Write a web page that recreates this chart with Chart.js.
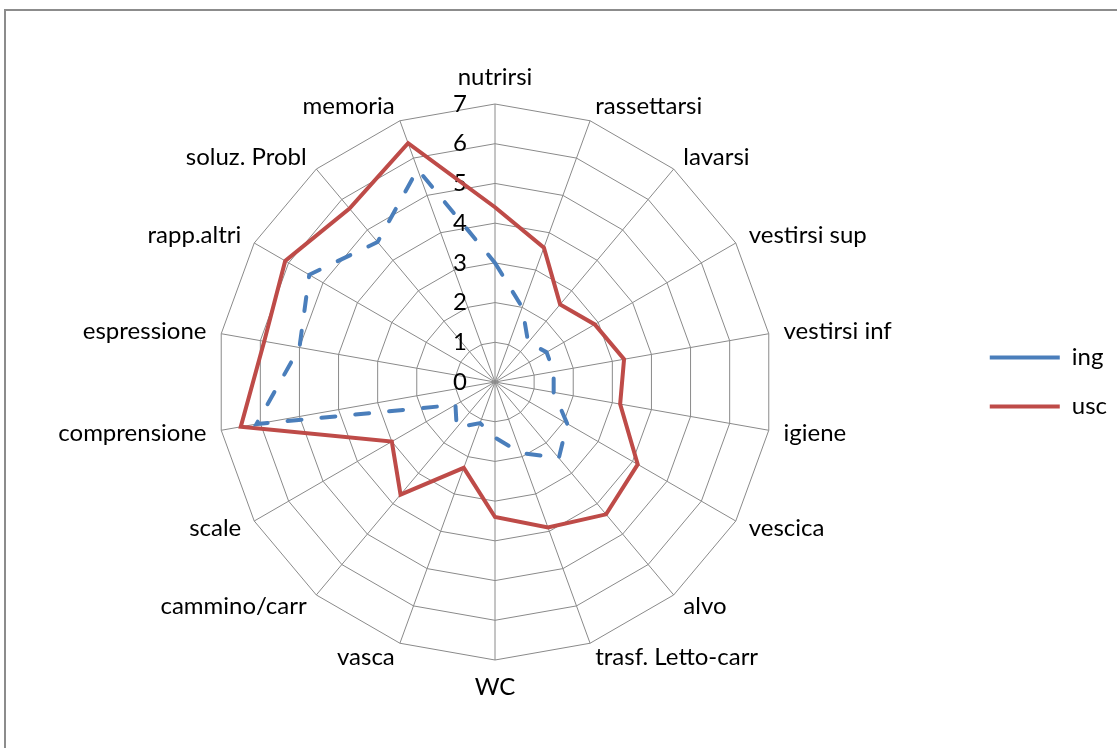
<!DOCTYPE html>
<html>
<head>
<meta charset="utf-8">
<script src="https://cdn.jsdelivr.net/npm/chart.js@4.4.1/dist/chart.umd.min.js"></script>
<style>
  html, body { margin: 0; padding: 0; background: #fff; overflow: hidden; }
  #frame {
    position: absolute; left: 4px; top: 9px; width: 1200px; height: 800px;
    border-top: 2px solid #8c8c8c; border-left: 2px solid #8c8c8c;
  }
  #chart { position: absolute; left: 0; top: 0; }
</style>
</head>
<body>
<div id="frame"></div>
<canvas id="chart" width="1117" height="748"></canvas>
<script>
const categories = [
    'nutrirsi', 'rassettarsi', 'lavarsi', 'vestirsi sup', 'vestirsi inf', 'igiene',
    'vescica', 'alvo', 'trasf. Letto-carr', 'WC', 'vasca', 'cammino/carr', 'scale',
    'comprensione', 'espressione', 'rapp.altri', 'soluz. Probl', 'memoria'
];
const ingValues = [3, 2, 1.3, 1.5, 1.5, 1.5, 2.1, 2.5, 1.9, 1.4, 1.1, 1.5, 1.15, 6.1, 5, 5.4, 4.6, 5.7];
const uscValues = [4.4, 3.6, 2.55, 2.9, 3.3, 3.2, 4.15, 4.35, 3.9, 3.4, 2.3, 3.7, 3, 6.5, 5.9, 6.1, 5.7, 6.4];
const scaleTicks = [0, 1, 2, 3, 4, 5, 6, 7];

const FONT = 'Lato';
const FONT_SIZE = 24;
const gridColor = '#8a8a8a';

// tick numbers left of the vertical axis (under the lines) and the
// category names placed Excel-style just outside each spoke
const radarText = {
    id: 'radarText',
    beforeDatasetsDraw(chart) {
        const r = chart.scales.r;
        const ctx = chart.ctx;
        ctx.save();
        ctx.font = FONT_SIZE + 'px ' + FONT;
        ctx.fillStyle = '#000';
        ctx.textAlign = 'right';
        ctx.textBaseline = 'middle';
        scaleTicks.forEach(v => {
            const y = r.yCenter - r.getDistanceFromCenterForValue(v);
            ctx.fillText(String(v), r.xCenter - 28, y);
        });

        const n = categories.length;
        categories.forEach((name, i) => {
            const p = r.getPointPosition(i, r.drawingArea + 15);
            const deg = i * 360 / n;
            if (deg === 0) {
                ctx.textAlign = 'center';
                ctx.textBaseline = 'bottom';
            } else if (deg === 180) {
                ctx.textAlign = 'center';
                ctx.textBaseline = 'top';
            } else {
                ctx.textAlign = deg < 180 ? 'left' : 'right';
                ctx.textBaseline = 'middle';
            }
            ctx.fillText(name, p.x, p.y);
        });
        ctx.restore();
    }
};

const ctx = document.getElementById('chart').getContext('2d');
new Chart(ctx, {
    type: 'radar',
    data: {
        labels: categories,
        datasets: [
            {
                label: 'ing',
                data: ingValues,
                borderColor: '#4a7ebb',
                borderWidth: 4,
                borderDash: [14, 20],
                borderCapStyle: 'round',
                pointRadius: 0,
                fill: false
            },
            {
                label: 'usc',
                data: uscValues,
                borderColor: '#be4b48',
                borderWidth: 4,
                borderCapStyle: 'round',
                pointRadius: 0,
                fill: false
            }
        ]
    },
    options: {
        responsive: false,
        animation: false,
        devicePixelRatio: 1,
        layout: {
            padding: { left: 26, right: 0, top: 104, bottom: 88 }
        },
        elements: { line: { tension: 0 } },
        scales: {
            r: {
                min: 0,
                max: 7,
                ticks: { stepSize: 1, display: false },
                grid: { circular: false, color: gridColor, lineWidth: 1 },
                angleLines: { color: gridColor, lineWidth: 1 },
                pointLabels: { display: false }
            }
        },
        plugins: {
            legend: {
                position: 'right',
                labels: {
                    usePointStyle: true,
                    pointStyle: 'line',
                    pointStyleWidth: 70,
                    padding: 25,
                    color: '#000',
                    font: { family: FONT, size: FONT_SIZE }
                }
            },
            tooltip: { enabled: false }
        }
    },
    plugins: [radarText]
});
</script>
</body>
</html>
